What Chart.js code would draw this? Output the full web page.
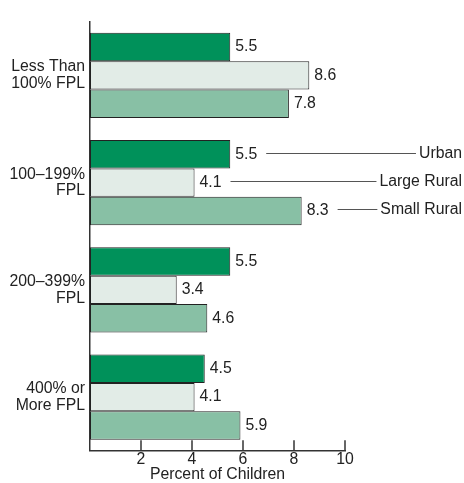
<!DOCTYPE html>
<html>
<head>
<meta charset="utf-8">
<script src="https://cdn.jsdelivr.net/npm/chart.js@4.4.1/dist/chart.umd.min.js"></script>
<style>
  body { margin: 0; background: #fff; }
  canvas { display: block; }
</style>
</head>
<body>
<canvas id="chart" width="464" height="483"></canvas>
<script>
// =======================================
// データ
// =======================================
const categories = [
    ['Less Than', '100% FPL'],
    ['100–199%', 'FPL'],
    ['200–399%', 'FPL'],
    ['400% or', 'More FPL'],
];
const seriesNames = ['Urban', 'Large Rural', 'Small Rural'];
const urban = [5.5, 5.5, 5.5, 4.5];
const largeRural = [8.6, 4.1, 3.4, 4.1];
const smallRural = [7.8, 8.3, 4.6, 5.9];
const xTicks = [2, 4, 6, 8, 10];

const FONT = "'Liberation Sans', Arial, Helvetica, sans-serif";
const SIZE = 15.8;
const TEXT = '#222';
const AXIS = '#333';
const colors = ['#00915a', '#e2ece7', '#88c0a5'];

// 凡例を付けるカテゴリ（2番目のグループ）
const legendIndex = 1;

// =======================================
// プラグイン
// =======================================
const valueLabels = {
    id: 'valueLabels',
    afterDatasetsDraw(chart) {
        const ctx = chart.ctx;
        ctx.save();
        ctx.font = `${SIZE}px ${FONT}`;
        ctx.fillStyle = TEXT;
        ctx.textBaseline = 'middle';
        ctx.textAlign = 'left';
        chart.data.datasets.forEach((ds, di) => {
            const meta = chart.getDatasetMeta(di);
            meta.data.forEach((bar, i) => {
                const txt = ds.data[i].toFixed(1);
                const x = bar.x + 5;
                const y = bar.y;
                ctx.fillText(txt, x, y);

                // 凡例の引き出し線
                if (i === legendIndex) {
                    const w = ctx.measureText(txt).width;
                    const name = seriesNames[di];
                    const nameW = ctx.measureText(name).width;
                    const right = chart.width - 2;
                    const lineStart = x + w + 9;
                    const lineEnd = right - nameW - 3;
                    const ly = Math.round(y - 1.5) + 0.5;
                    ctx.strokeStyle = '#555';
                    ctx.lineWidth = 1;
                    ctx.beginPath();
                    ctx.moveTo(lineStart, ly);
                    ctx.lineTo(lineEnd, ly);
                    ctx.stroke();
                    ctx.textAlign = 'right';
                    ctx.fillText(name, right, y - 1);
                    ctx.textAlign = 'left';
                }
            });
        });
        ctx.restore();
    },
};

// x軸の目盛り線は内側に描く
const innerTicks = {
    id: 'innerTicks',
    afterDraw(chart) {
        const ctx = chart.ctx;
        const xs = chart.scales.x;
        const bottom = chart.chartArea.bottom;
        ctx.save();
        ctx.strokeStyle = AXIS;
        ctx.lineWidth = 1.5;
        xTicks.forEach((v) => {
            const px = xs.getPixelForValue(v);
            ctx.beginPath();
            ctx.moveTo(px, bottom - 10.5);
            ctx.lineTo(px, bottom);
            ctx.stroke();
        });
        ctx.restore();
    },
};

// =======================================
// チャート
// =======================================
new Chart(document.getElementById('chart'), {
    type: 'bar',
    data: {
        labels: categories,
        datasets: [urban, largeRural, smallRural].map((d, i) => ({
            label: seriesNames[i],
            data: d,
            backgroundColor: colors[i],
            borderColor: '#222',
            borderWidth: 1,
            borderSkipped: false,
            categoryPercentage: 0.794,
            barPercentage: 1,
        })),
    },
    options: {
        indexAxis: 'y',
        responsive: false,
        animation: false,
        layout: { padding: { top: 9.5, right: 119, left: 0, bottom: 0 } },
        plugins: {
            legend: { display: false },
            tooltip: { enabled: false },
        },
        scales: {
            x: {
                min: 0,
                max: 10,
                afterFit: (scale) => { scale.height = 32.3; },
                afterBuildTicks: (scale) => {
                    scale.ticks = [0, ...xTicks].map((v) => ({ value: v }));
                },
                grid: { display: false, drawTicks: false },
                border: { display: true, color: AXIS, width: 1.5 },
                ticks: {
                    padding: 1,
                    color: TEXT,
                    font: { family: FONT, size: SIZE, lineHeight: 1 },
                    callback: (v) => (v === 0 ? '' : v),
                    maxRotation: 0,
                },
                title: {
                    display: true,
                    text: 'Percent of Children',
                    color: TEXT,
                    font: { family: FONT, size: SIZE, lineHeight: 1 },
                    padding: { top: 0, bottom: 0 },
                },
            },
            y: {
                afterFit: (scale) => { scale.width = 90; },
                grid: { display: false, drawTicks: false },
                border: { display: true, color: AXIS, width: 1.5 },
                ticks: {
                    padding: 5,
                    color: TEXT,
                    font: { family: FONT, size: SIZE, lineHeight: 1.06 },
                },
            },
        },
    },
    plugins: [valueLabels, innerTicks],
});
</script>
</body>
</html>
